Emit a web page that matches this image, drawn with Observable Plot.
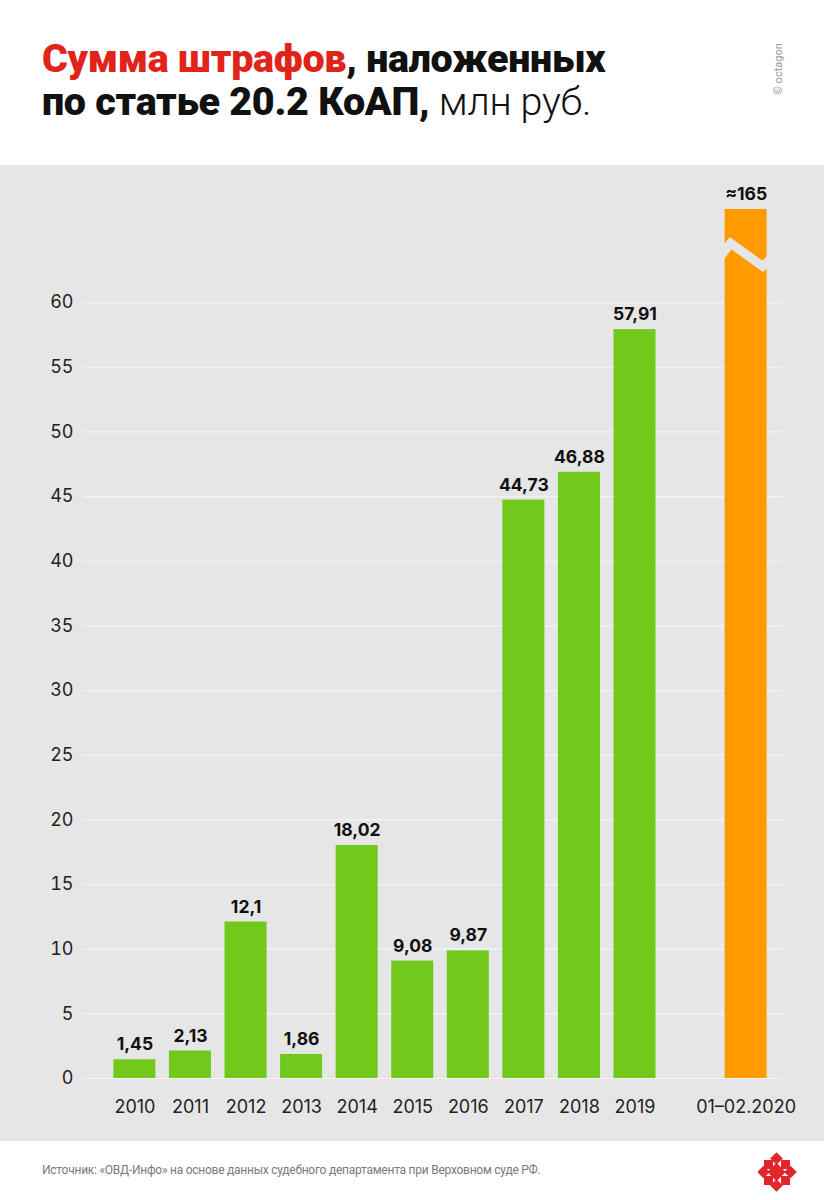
<!DOCTYPE html>
<html>
<head>
<meta charset="utf-8">
<script src="https://cdn.jsdelivr.net/npm/d3@7"></script>
<script src="https://cdn.jsdelivr.net/npm/@observablehq/plot@0.6"></script>
<style>
  html, body { margin: 0; padding: 0; background: #fff; }
  #page { position: relative; width: 824px; height: 1200px; overflow: hidden; font-family: Roboto, "Noto Sans", sans-serif; }
  #header { position: relative; height: 165px; background: #fff; }
  #title { position: absolute; left: 42px; top: 37px; font-size: 39.5px; line-height: 43px; font-weight: 900; color: #111; letter-spacing: -0.3px; }
  #title .red { color: #e2231a; }
  #title .light { font-weight: 300; }
  #copy { position: absolute; left: 778px; top: 69px; transform: translate(-50%, -50%) rotate(-90deg); font-size: 11px; color: #999; white-space: nowrap; font-family: Roboto, sans-serif; }
  #panel { background: #e6e6e6; height: 976px; }
  #footer { position: relative; height: 59px; background: #fff; }
  #source { position: absolute; left: 42px; top: 22px; font-size: 12px; letter-spacing: -0.25px; color: #7a7a7a; font-family: Roboto, sans-serif; }
  #logo { position: absolute; left: 758px; top: 11px; }
</style>
</head>
<body>
<div id="page">
  <div id="header">
    <div id="title"><span class="red">Сумма штрафов</span>, наложенных<br>по статье 20.2 КоАП, <span class="light">млн руб.</span></div>
    <div id="copy">© octagon</div>
  </div>
  <div id="panel"></div>
  <div id="footer">
    <div id="source">Источник: «ОВД-Инфо» на основе данных судебного департамента при Верховном суде РФ.</div>
    <svg id="logo" width="40" height="40" viewBox="0 0 40 40">
      <g fill="#e2262b">
        <rect x="14" y="2" width="9" height="9" transform="rotate(45 18.5 6.5)"/>
        <rect x="14" y="29" width="9" height="9" transform="rotate(45 18.5 33.5)"/>
        <rect x="1" y="15.5" width="9" height="9" transform="rotate(45 5.5 20)"/>
        <rect x="28" y="15.5" width="9" height="9" transform="rotate(45 32.5 20)"/>
        <rect x="6" y="8" width="9" height="9"/>
        <rect x="23" y="8" width="9" height="9"/>
        <rect x="6" y="24" width="9" height="9"/>
        <rect x="23" y="24" width="9" height="9"/>
        <rect x="12" y="13.5" width="13" height="13" transform="rotate(45 18.5 20)"/>
      </g>
    </svg>
  </div>
</div>
<script>
// ---- data ----
const categories = ["2010", "2011", "2012", "2013", "2014", "2015", "2016", "2017", "2018", "2019", "01–02.2020"];
const values = [1.45, 2.13, 12.1, 1.86, 18.02, 9.08, 9.87, 44.73, 46.88, 57.91, 165];
const labels = ["1,45", "2,13", "12,1", "1,86", "18,02", "9,08", "9,87", "44,73", "46,88", "57,91", "≈165"];
const partial = [false, false, false, false, false, false, false, false, false, false, true];
const yTicks = [0, 5, 10, 15, 20, 25, 30, 35, 40, 45, 50, 55, 60];
const spacer = " ";

const rows = categories.map((c, i) => ({cat: c, value: values[i], label: labels[i], partial: partial[i]}));
const xDomain = [...categories.slice(0, 10), spacer, categories[10]];

const GREEN = "#72c91c", ORANGE = "#ff9a00", BG = "#e6e6e6";

// broken-bar marker drawn relative to the partial bar
function breakMark(index, scales, vals, dims) {
  const ns = "http://www.w3.org/2000/svg";
  const g = document.createElementNS(ns, "g");
  const x = scales.x;
  const bw = typeof x.bandwidth === "function" ? x.bandwidth() : x.bandwidth;
  rows.filter(d => d.partial).forEach(d => {
    const L = x(d.cat);
    const yc = scales.y(63.7);
    const p = document.createElementNS(ns, "path");
    p.setAttribute("d", `M${L - 4},${yc + 2}L${L + 6},${yc - 11}L${L + bw - 4},${yc + 12}L${L + bw + 4},${yc + 5}`);
    p.setAttribute("fill", "none");
    p.setAttribute("stroke", BG);
    p.setAttribute("stroke-width", 9);
    p.setAttribute("stroke-linejoin", "miter");
    g.appendChild(p);
  });
  return g;
}

const chart = Plot.plot({
  width: 824,
  height: 976,
  marginTop: 44,
  marginBottom: 63,
  marginLeft: 83,
  marginRight: 42,
  style: {background: BG, fontFamily: "Inter, Roboto, sans-serif"},
  x: {type: "band", domain: xDomain, paddingInner: 0.244, paddingOuter: 0.412, align: 0.664, round: false, axis: null},
  y: {domain: [0, 67.2], clamp: true, axis: null},
  marks: [
    Plot.ruleY(yTicks, {stroke: "#f4f4f4", strokeWidth: 1.2}),
    Plot.barY(rows, {x: "cat", y: "value", fill: d => d.partial ? ORANGE : GREEN}),
    breakMark,
    Plot.text(rows, {x: "cat", y: "value", text: "label", dy: -15, fontSize: 17.5, fontWeight: 700, fill: "#111"}),
    Plot.axisY(yTicks, {tickSize: 0, tickPadding: 10, fontSize: 18, fill: "#222", textAnchor: "end", label: null}),
    Plot.axisX(categories, {tickSize: 0, tickPadding: 22, fontSize: 18, fill: "#222", label: null})
  ]
});
document.getElementById("panel").appendChild(chart);
</script>
</body>
</html>
